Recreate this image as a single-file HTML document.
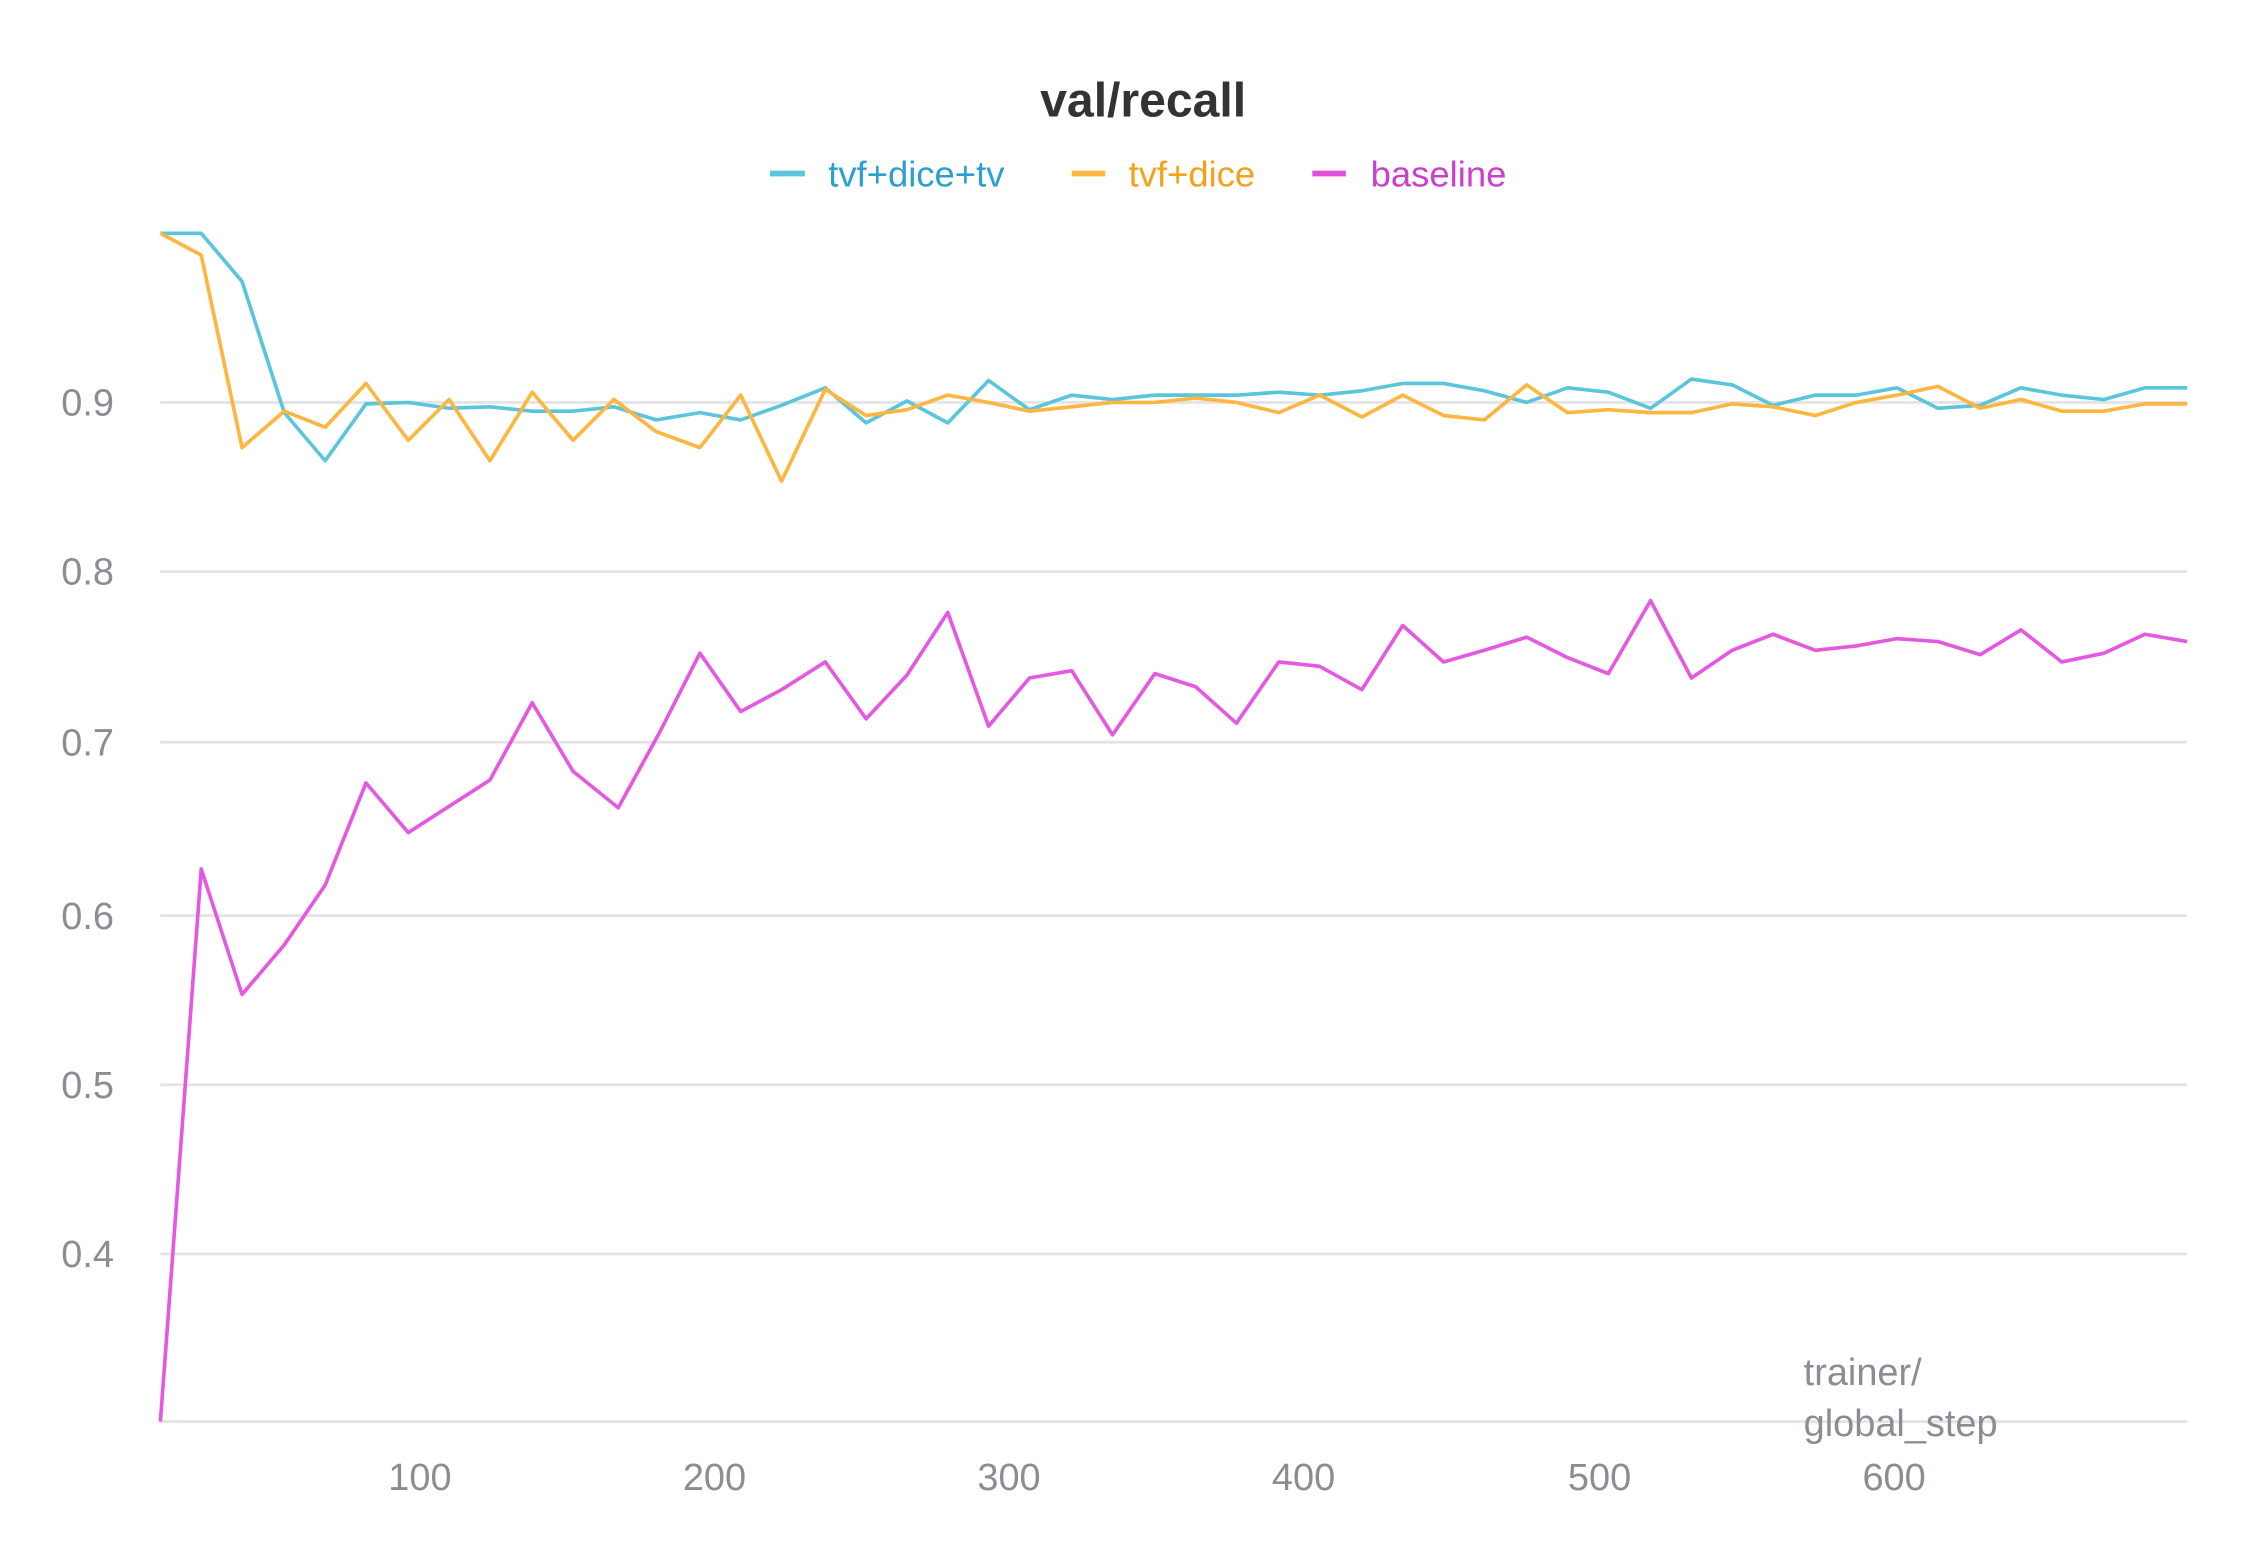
<!DOCTYPE html>
<html><head><meta charset="utf-8"><style>
html,body{margin:0;padding:0;background:#fff;}
svg{display:block;}
</style></head><body>
<svg width="2263" height="1547" viewBox="0 0 1552 1061" preserveAspectRatio="none" xmlns="http://www.w3.org/2000/svg" font-family="Liberation Sans, sans-serif">
<rect width="1552" height="1061" fill="#fff"/>
<text x="784" y="80" text-anchor="middle" font-size="33" font-weight="bold" fill="#333">val/recall</text>
<g font-size="25">
<line x1="528" y1="119" x2="552" y2="119" stroke="#5bc5db" stroke-width="4"/>
<text x="568" y="128" fill="#2b9fd0">tvf+dice+tv</text>
<line x1="735" y1="119" x2="758" y2="119" stroke="#fdb640" stroke-width="4"/>
<text x="774" y="128" fill="#f5a21a">tvf+dice</text>
<line x1="900" y1="119" x2="923" y2="119" stroke="#e04fdc" stroke-width="4"/>
<text x="940" y="128" fill="#cc3fcc">baseline</text>
</g>
<g stroke="#e4e4e6" stroke-width="2">
<line x1="110" y1="276" x2="1500" y2="276"/>
<line x1="110" y1="392" x2="1500" y2="392"/>
<line x1="110" y1="509" x2="1500" y2="509"/>
<line x1="110" y1="628" x2="1500" y2="628"/>
<line x1="110" y1="744" x2="1500" y2="744"/>
<line x1="110" y1="860" x2="1500" y2="860"/>
<line x1="110" y1="975" x2="1500" y2="975"/>
</g>
<g font-size="26" fill="#8a8d93">
<text x="42" y="285">0.9</text>
<text x="42" y="401">0.8</text>
<text x="42" y="518">0.7</text>
<text x="42" y="637">0.6</text>
<text x="42" y="753">0.5</text>
<text x="42" y="869">0.4</text>
<g text-anchor="middle">
<text x="288" y="1022">100</text>
<text x="490" y="1022">200</text>
<text x="692" y="1022">300</text>
<text x="894" y="1022">400</text>
<text x="1097" y="1022">500</text>
<text x="1299" y="1022">600</text>
</g>
<text x="1237" y="950">trainer/</text>
<text x="1237" y="985">global_step</text>
</g>
<g fill="none" stroke-width="2.5" stroke-linejoin="round">
<polyline stroke="#e558e0" points="110,975 138,596 166,682 195,648 223,607 251,537 280,571 308,553 336,535 365,482 393,529 424,554 452,503 480,448 508,488 536,473 566,454 594,493 622,463 650,420 678,498 706,465 735,460 763,504 792,462 820,471 848,496 877,454 905,457 934,473 962,429 990,454 1018,446 1047,437 1075,451 1103,462 1132,412 1160,465 1188,446 1216,435 1245,446 1273,443 1301,438 1329,440 1358,449 1386,432 1414,454 1443,448 1471,435 1500,440"/>
<polyline stroke="#5bc5db" points="110,160 138,160 166,193 195,283 223,316 251,277 280,276 308,280 336,279 365,282 393,282 421,279 450,288 480,283 508,288 536,278 566,266 594,290 622,275 650,290 678,261 706,281 735,271 763,274 792,271 820,271 848,271 877,269 905,271 934,268 962,263 990,263 1018,268 1047,276 1075,266 1103,269 1132,280 1160,260 1188,264 1216,278 1245,271 1273,271 1301,266 1329,280 1358,278 1386,266 1414,271 1443,274 1471,266 1500,266"/>
<polyline stroke="#fdb640" points="110,160 138,175 166,307 195,282 223,293 251,263 280,302 308,274 336,316 365,269 393,302 421,274 450,296 480,307 508,271 536,330 566,267 594,285 622,281 650,271 678,276 706,282 735,279 763,276 792,276 820,273 848,276 877,283 905,271 934,286 962,271 990,285 1018,288 1047,264 1075,283 1103,281 1132,283 1160,283 1188,277 1216,279 1245,285 1273,276 1301,271 1329,265 1358,280 1386,274 1414,282 1443,282 1471,277 1500,277"/>
</g>
</svg>
</body></html>
